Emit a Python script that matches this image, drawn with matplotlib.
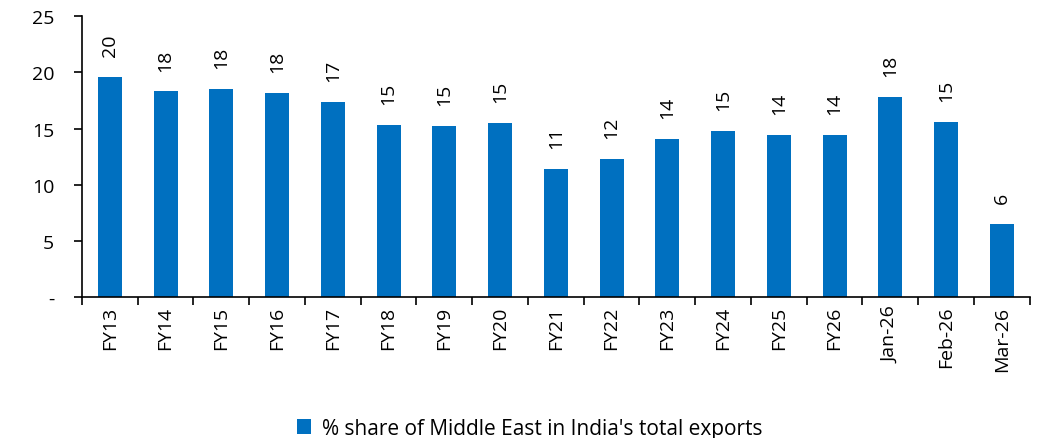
import matplotlib.pyplot as plt
import numpy as np

categories = ["FY13", "FY14", "FY15", "FY16", "FY17", "FY18", "FY19", "FY20", "FY21",
              "FY22", "FY23", "FY24", "FY25", "FY26", "Jan-26", "Feb-26", "Mar-26"]
share = [19.6, 18.3, 18.5, 18.2, 17.4, 15.3, 15.2, 15.5, 11.4,
         12.3, 14.1, 14.8, 14.4, 14.4, 17.8, 15.6, 6.5]
labels = ["20", "18", "18", "18", "17", "15", "15", "15", "11",
          "12", "14", "15", "14", "14", "18", "15", "6"]

plt.rcParams['font.family'] = ['Open Sans', 'DejaVu Sans']

fig = plt.figure(figsize=(10.38, 4.39), dpi=100)
ax = fig.add_axes([0.079, 0.321, 0.913, 0.64])

x = np.arange(len(categories))
bars = ax.bar(x, share, width=0.43, color="#0070C0",
              label="% share of Middle East in India's total exports")

# value labels, rotated, above each bar
for b, lab in zip(bars, labels):
    ax.annotate(lab, (b.get_x() + b.get_width() / 2, b.get_height()),
                xytext=(0, 15), textcoords="offset points",
                ha="center", va="bottom", rotation=90, fontsize=14)

ax.set_xlim(-0.5, len(categories) - 0.5)
ax.set_ylim(0, 25)
ax.set_yticks([0, 5, 10, 15, 20, 25])
ax.set_yticklabels(["-", "5", "10", "15", "20", "25"], fontsize=14)
ax.set_xticks(x)
ax.set_xticklabels(categories, rotation=90, fontsize=14)
ax.tick_params(axis="x", length=0, pad=6)
ax.set_xticks(np.arange(-0.5, len(categories)), minor=True)
ax.tick_params(axis="x", which="minor", length=6, width=1.2, direction="out")
ax.tick_params(axis="y", length=6, width=1.2, pad=14)

for s in ["top", "right"]:
    ax.spines[s].set_visible(False)
ax.spines["left"].set_linewidth(1.2)
ax.spines["bottom"].set_linewidth(1.2)

fig.legend(loc="lower center", bbox_to_anchor=(0.51, -0.045), frameon=False,
           fontsize=15, handlelength=0.7, handleheight=0.7, handletextpad=0.5)

fig.savefig("out.png", dpi=100)
